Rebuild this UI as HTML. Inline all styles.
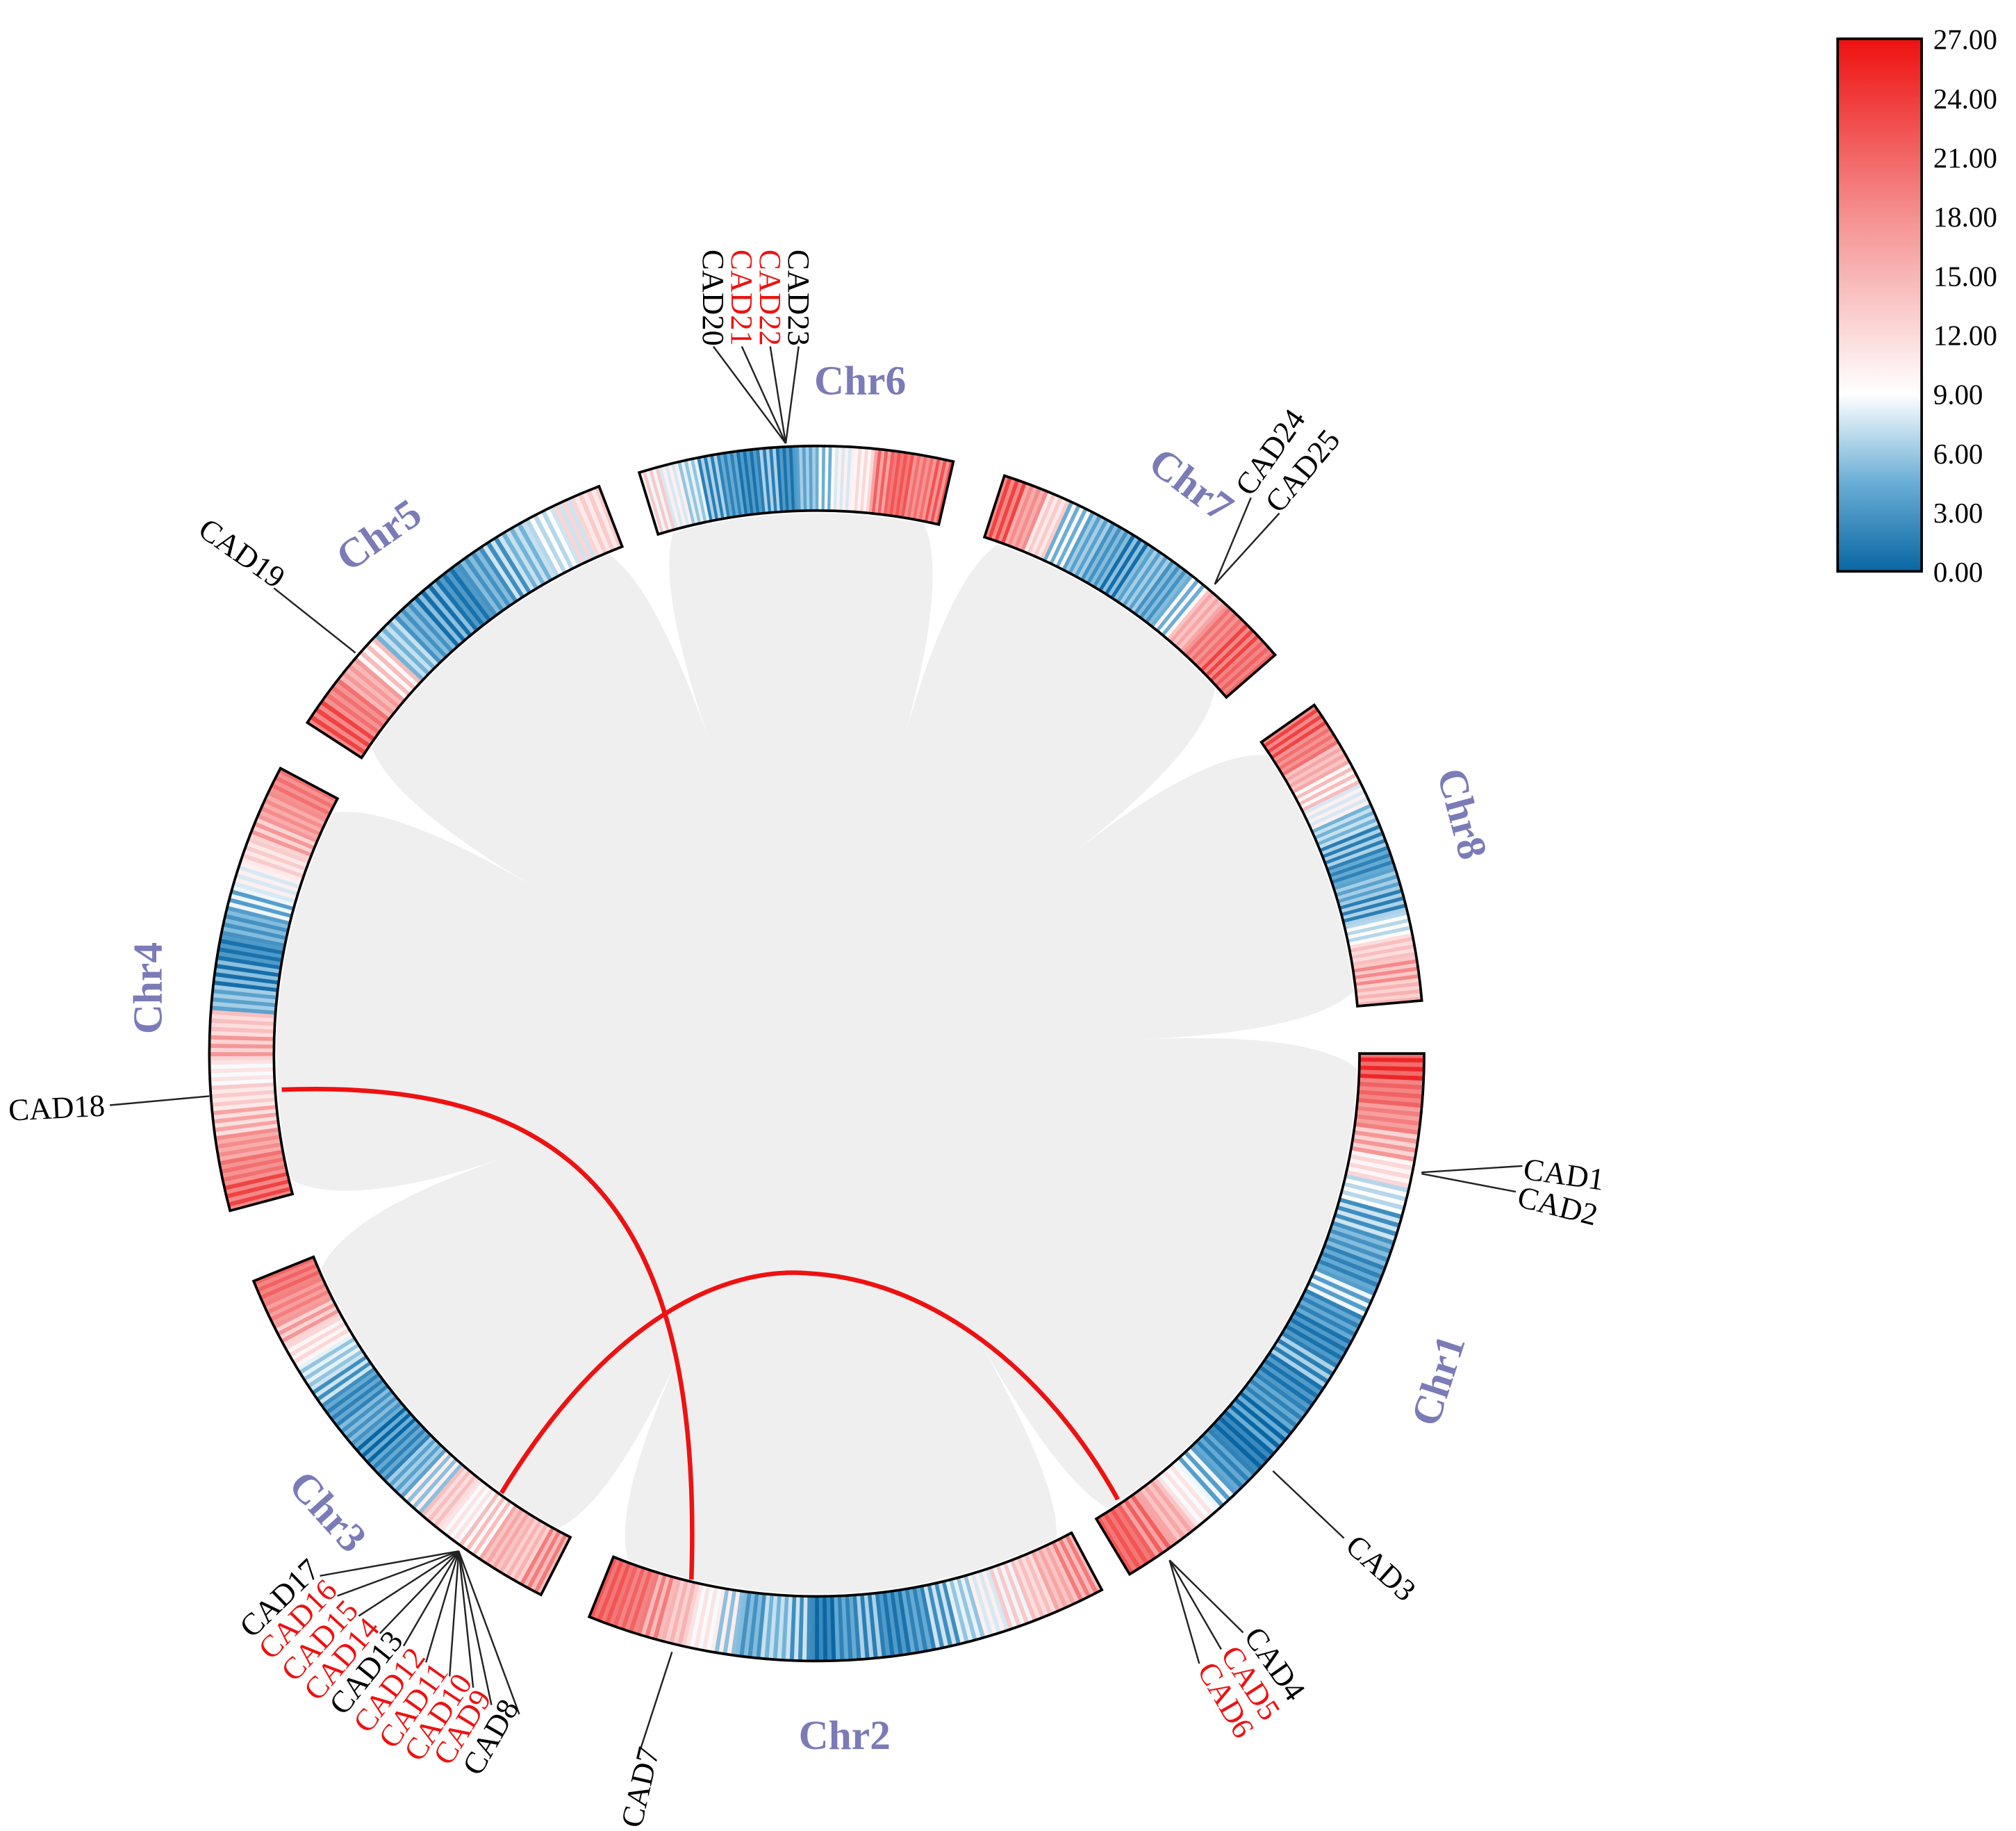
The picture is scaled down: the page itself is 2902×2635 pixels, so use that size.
<!DOCTYPE html>
<html><head><meta charset="utf-8"><style>
html,body{margin:0;padding:0;background:#fff;}
svg{display:block;}
text{font-family:"Liberation Serif",serif;}
</style></head><body>
<svg id="chart" width="2902" height="2635" viewBox="0 0 1560 1416.5" xmlns="http://www.w3.org/2000/svg">
<defs>
<linearGradient id="cbar" x1="0" y1="0" x2="0" y2="1">
<stop offset="0" stop-color="#ee1111"/>
<stop offset="0.333" stop-color="#f59090"/>
<stop offset="0.667" stop-color="#ffffff"/>
<stop offset="0.833" stop-color="#6aaed6"/>
<stop offset="1" stop-color="#0a66a3"/>
</linearGradient>
</defs>
<circle cx="632" cy="815" r="418" fill="#efefef"/>
<g id="gaps"></g>
<g id="rings"></g>
<g id="redlinks"></g>
<g id="labels"></g>
<g>
<rect x="1422" y="30" width="65" height="412" fill="url(#cbar)" stroke="#000" stroke-width="2"/>
<g id="cbticks" font-size="22"></g>
</g>
</svg>
<script>
const NS='http://www.w3.org/2000/svg';
const CX=632,CY=815,R0=420,R1=470;
const chrNames=['Chr1','Chr2','Chr3','Chr4','Chr5','Chr6','Chr7','Chr8'];
const chrStart=[90,152,207,255,303,343,18,55];
const chrEnd=[149,202,248,298,339,373,49,85];
const chr1Vals=[23,20,18,15,11,8,5,4,3,6,3,2,4,2,3,2,1,3,6,10,15,19,21];
const chr2Vals=[17,15,13,11,9,7,5,3,2,4,3,1,5,6,4,8,10,14,17,20,21];
const chr3Vals=[17,14,15,12,10,13,8,5,3,2,4,3,5,7,11,15,18,20];
const chr4Vals=[21,19,17,14,12,10,15,13,5,3,2,4,6,9,12,15,17,19];
const chr5Vals=[21,19,16,12,6,4,3,2,4,5,6,8,10,12];
const chr6Vals=[11,9,7,4,3,2,4,2,5,7,9,11,19,21,19,20];
const chr7Vals=[21,17,12,7,5,4,3,5,4,7,15,19,21,20];
const chr8Vals=[21,19,15,12,9,6,4,3,5,4,8,13,16,14];
const chrVals=[chr1Vals,chr2Vals,chr3Vals,chr4Vals,chr5Vals,chr6Vals,chr7Vals,chr8Vals];
const cbTicks=['27.00','24.00','21.00','18.00','15.00','12.00','9.00','6.00','3.00','0.00'];
const cbMax=27;

function pt(a,r){const t=a*Math.PI/180;return [CX+r*Math.sin(t),CY-r*Math.cos(t)];}
function arc(a0,a1,r0,r1){
  const p0=pt(a0,r1),p1=pt(a1,r1),p2=pt(a1,r0),p3=pt(a0,r0);const lg=(a1-a0)>180?1:0;
  return `M${p0}A${r1},${r1} 0 ${lg} 1 ${p1}L${p2}A${r0},${r0} 0 ${lg} 0 ${p3}Z`;}
function lerp(a,b,t){return a.map((v,i)=>Math.round(v+(b[i]-v)*t));}
function col(v){
  const stops=[[0,[10,102,163]],[4.5,[106,174,214]],[9,[255,255,255]],[18,[245,144,144]],[27,[238,17,17]]];
  v=Math.max(0,Math.min(27,v));
  for(let i=0;i<stops.length-1;i++){if(v<=stops[i+1][0]){const t=(v-stops[i][0])/(stops[i+1][0]-stops[i][0]);return 'rgb('+lerp(stops[i][1],stops[i+1][1],t).join(',')+')';}}
  return 'rgb(238,17,17)';}
function mk(tag,attrs,parent){const e=document.createElementNS(NS,tag);for(const k in attrs)e.setAttribute(k,attrs[k]);parent.appendChild(e);return e;}

const gaps=document.getElementById('gaps');
for(let i=0;i<8;i++){
  const e0=chrEnd[i];
  let s1=chrStart[(i+1)%8]; if(s1<e0) s1+=360;
  const mid=(e0+s1)/2;
  const a=pt(e0-2,R0+2),b=pt(s1+2,R0+2),c=pt(mid,R0-170);
  const g=mk('path',{d:`M${a}Q${pt(mid,R0-30)} ${c}Q${pt(mid,R0-30)} ${b}Z`,fill:'#ffffff'},gaps);
  
  
}

const rings=document.getElementById('rings');
chrNames.forEach((nm,i)=>{
  const g=mk('g',{},rings);
  
  
  const vals=chrVals[i],a0=chrStart[i],a1=chrEnd[i],n=vals.length,w=(a1-a0)/n;
  vals.forEach((v,j)=>{
    for(let k=0;k<6;k++){
      const s=a0+w*j+w*k/6;
      const vv=v+((k%2)?2.5:-2.5)*(j%3==0?1:0.5);
      const c=mk('path',{d:arc(s,s+w/6+0.05,R0,R1),fill:col(vv)},g);
      
      
    }
  });
  const o=mk('path',{d:arc(a0,a1,R0,R1),fill:'none',stroke:'#000','stroke-width':2},g);
  
  
});

const rl=document.getElementById('redlinks');
const l1=mk('path',{d:'M218,843 C430,835 545,920 535,1222',fill:'none',stroke:'#ee1111','stroke-width':3.5},rl);


const l2=mk('path',{d:'M388,1155 C470,1020 560,980 625,985 C720,990 810,1060 865,1160',fill:'none',stroke:'#ee1111','stroke-width':3.5},rl);



const L=document.getElementById('labels');
function line(x1,y1,x2,y2,name){const e=mk('line',{x1,y1,x2,y2,stroke:'#222','stroke-width':1.3},L);}
function txt(s,x,y,rot,color,size,name,bold){
  const e=mk('text',{x:0,y:0,transform:`translate(${x},${y}) rotate(${rot})`,fill:color,'font-size':size},L);
  if(bold){e.setAttribute('font-weight','bold');}
  e.textContent=s;}
const BLK='#000',RED='#ee1111',CHR='#7b7bb8';
txt('Chr6',630,305,0,CHR,32,'chr6-label',1);
txt('Chr7',887,362,37,CHR,32,'chr7-label',1);
txt('Chr8',1112,598,75,CHR,32,'chr8-label',1);
txt('Chr1',1112,1105,-72,CHR,32,'chr1-label',1);
txt('Chr2',618,1353,0,CHR,32,'chr2-label',1);
txt('Chr3',222,1150,48,CHR,32,'chr3-label',1);
txt('Chr4',125,800,-90,CHR,32,'chr4-label',1);
txt('Chr5',270,443,-35,CHR,32,'chr5-label',1);
line(1100,907,1178,902,'cad1-line');line(1100,908,1173,922,'cad2-line');
txt('CAD1',1178,912,8,BLK,24,'cad1-label');txt('CAD2',1173,933,14,BLK,24,'cad2-label');
line(985,1138,1040,1190,'cad3-line');txt('CAD3',1040,1198,42,BLK,24,'cad3-label');
line(905,1207,962,1263,'cad4-line');line(905,1207,945,1276,'cad5-line');line(905,1207,928,1287,'cad6-line');
txt('CAD4',962,1266,55,BLK,24,'cad4-label');txt('CAD5',944,1280,57,RED,24,'cad5-label');txt('CAD6',926,1292,60,RED,24,'cad6-label');
line(520,1278,496,1352,'cad7-line');txt('CAD7',496,1415,-77,BLK,24,'cad7-label');
line(162,848,85,855,'cad18-line');txt('CAD18',7,867,-3,BLK,24,'cad18-label');
line(275,505,212,455,'cad19-line');txt('CAD19',152,413,35,BLK,24,'cad19-label');
// chr3 cluster: [name,color,bottom-left x,y]
const c3=[['CAD17',BLK,195,1268],['CAD16',RED,210,1285],['CAD15',RED,228,1302],['CAD14',RED,246,1317],['CAD13',BLK,266,1328],['CAD12',RED,285,1342],['CAD11',RED,305,1354],['CAD10',RED,325,1364],['CAD9',RED,348,1367],['CAD8',BLK,371,1375]];
c3.forEach(([s,c,x,y],i)=>{
  const rot=-(44+i*1.8);const len=s.length*13.5;const t=rot*Math.PI/180;
  const ex=x+len*Math.cos(t)+4, ey=y+len*Math.sin(t)-2;
  line(355,1200,ex,ey,s.toLowerCase()+'-line');
  txt(s,x,y,rot,c,24,s.toLowerCase()+'-label');
});
const c6=[['CAD20',BLK,548],['CAD21',RED,570],['CAD22',RED,592],['CAD23',BLK,614]];
c6.forEach(([s,c,x])=>{
  line(608,343,x+4,268,s.toLowerCase()+'-line');
  txt(s,x-4,193,90,c,24,s.toLowerCase()+'-label');
});
line(940,452,968,385,'cad24-line');line(940,452,990,397,'cad25-line');
txt('CAD24',968,385,-55,BLK,24,'cad24-label');txt('CAD25',990,398,-50,BLK,24,'cad25-label');

const cb=document.getElementById('cbticks');
cbTicks.forEach((t,i)=>{
  const v=parseFloat(t);const y=30+412*(1-v/cbMax);
  const e=mk('text',{x:1496,y:y+8},cb);e.textContent=t;
  
  
});
</script>
</body></html>
